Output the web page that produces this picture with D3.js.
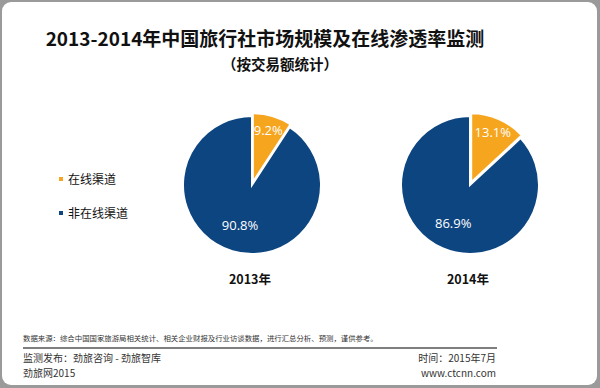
<!DOCTYPE html>
<html>
<head>
<meta charset="utf-8">
<script src="https://cdn.jsdelivr.net/npm/d3@7"></script>
<style>
  body { margin: 0; background: #fff; }
  text { font-family: "Noto Sans CJK SC", "Noto Sans", sans-serif; }
</style>
</head>
<body>
<div id="chart"></div>
<script>
// data
var years = ["2013年", "2014年"];
var channels = ["在线渠道", "非在线渠道"];
var online = [9.2, 13.1];
var offline = [90.8, 86.9];
var colors = ["#f6a51e", "#0d4581"];

var svgWidth = 600;
var svgHeight = 388;

var svg = d3.select("#chart")
  .append("svg")
  .attr("width", svgWidth)
  .attr("height", svgHeight);

// gray frame with rounded corners
svg.append("rect")
  .attr("width", svgWidth)
  .attr("height", svgHeight)
  .attr("fill", "#9a9a9a");

svg.append("rect")
  .attr("x", 2)
  .attr("y", 2)
  .attr("width", svgWidth - 5)
  .attr("height", svgHeight - 5)
  .attr("rx", 9)
  .attr("fill", "#fff");

// title
svg.append("text")
  .attr("x", 265)
  .attr("y", 46)
  .attr("text-anchor", "middle")
  .style("font-size", "19px")
  .style("font-weight", "bold")
  .attr("fill", "#111")
  .text("2013-2014年中国旅行社市场规模及在线渗透率监测");

svg.append("text")
  .attr("x", 280)
  .attr("y", 70)
  .attr("text-anchor", "middle")
  .style("font-size", "14.5px")
  .style("font-weight", "bold")
  .attr("fill", "#111")
  .text("（按交易额统计）");

// legend
var legend = svg.append("g")
  .selectAll("g")
  .data(channels)
  .enter()
  .append("g")
  .attr("transform", (d, i) => `translate(59, ${179 + i * 34})`);

legend.append("rect")
  .attr("x", 0)
  .attr("y", -2)
  .attr("width", 4)
  .attr("height", 4)
  .attr("fill", (d, i) => colors[i]);

legend.append("text")
  .attr("x", 9)
  .attr("y", 4.5)
  .style("font-size", "12px")
  .attr("fill", "#111")
  .text(d => d);

// pies
var xScale = d3.scalePoint()
  .domain(years)
  .range([252, 470]);

var radius = 69;
var pie = d3.pie().sort(null);
var arc = d3.arc().innerRadius(0).outerRadius(radius);
var onlineLabelArc = d3.arc().innerRadius(114).outerRadius(0);
var offlineLabelArc = d3.arc().innerRadius(84).outerRadius(0);

years.forEach(function(year, i) {
  var values = [online[i], offline[i]];
  var slices = pie(values);

  var g = svg.append("g")
    .attr("transform", `translate(${xScale(year)}, 185)`);

  g.selectAll("path")
    .data(slices)
    .enter()
    .append("path")
    .attr("d", arc)
    .attr("fill", (d, j) => colors[j])
    .attr("stroke", "#fff")
    .attr("stroke-width", 2)
    .attr("transform", function(d, j) {
      // pull the online slice out a little
      if (j !== 0) return null;
      var mid = (d.startAngle + d.endAngle) / 2;
      return `translate(${Math.sin(mid) * 3}, ${-Math.cos(mid) * 3})`;
    });

  g.selectAll("text")
    .data(slices)
    .enter()
    .append("text")
    .attr("transform", function(d, j) {
      var c = (j === 0 ? onlineLabelArc : offlineLabelArc).centroid(d);
      return `translate(${c[0]}, ${c[1]})`;
    })
    .attr("dy", "0.35em")
    .attr("text-anchor", "middle")
    .style("font-family", "'Open Sans', sans-serif")
    .style("font-size", "13px")
    .attr("fill", "#fff")
    .text(d => d.data.toFixed(1) + "%");

  svg.append("text")
    .attr("x", xScale(year) - 2)
    .attr("y", 284)
    .attr("text-anchor", "middle")
    .style("font-size", "12.5px")
    .style("font-weight", "bold")
    .attr("fill", "#111")
    .text(year);
});

// footer
svg.append("text")
  .attr("x", 23)
  .attr("y", 341)
  .style("font-size", "7.4px")
  .attr("fill", "#333")
  .text("数据来源：综合中国国家旅游局相关统计、相关企业财报及行业访谈数据，进行汇总分析、预测，谨供参考。");

svg.append("line")
  .attr("x1", 23)
  .attr("x2", 497)
  .attr("y1", 348)
  .attr("y2", 348)
  .attr("stroke", "#555")
  .attr("stroke-width", 1.5);

svg.append("text")
  .attr("x", 23)
  .attr("y", 362)
  .style("font-size", "10px")
  .attr("fill", "#333")
  .text("监测发布：劲旅咨询 - 劲旅智库");

svg.append("text")
  .attr("x", 23)
  .attr("y", 377)
  .style("font-size", "10px")
  .attr("fill", "#333")
  .text("劲旅网2015");

svg.append("text")
  .attr("x", 496)
  .attr("y", 362)
  .attr("text-anchor", "end")
  .style("font-size", "10px")
  .attr("fill", "#333")
  .text("时间：2015年7月");

svg.append("text")
  .attr("x", 496)
  .attr("y", 377)
  .attr("text-anchor", "end")
  .style("font-size", "10px")
  .attr("fill", "#333")
  .text("www.ctcnn.com");
</script>
</body>
</html>
